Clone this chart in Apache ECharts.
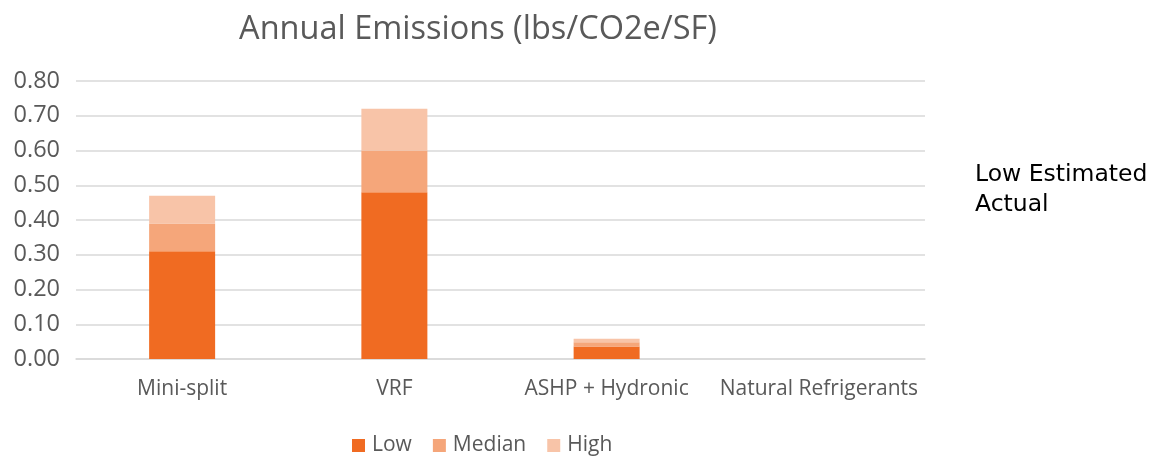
<!DOCTYPE html>
<html><head><meta charset="utf-8">
<script src="https://cdn.jsdelivr.net/npm/echarts@6/dist/echarts.min.js"></script>
<style>html,body{margin:0;padding:0;background:#fff}#c{width:1155px;height:460px}</style>
</head><body><div id="c"></div>
<script>
const categories = ['Mini-split', 'VRF', 'ASHP + Hydronic', 'Natural Refrigerants'];
const lowValues = [0.31, 0.48, 0.036, 0];
const medianValues = [0.08, 0.12, 0.012, 0];
const highValues = [0.08, 0.12, 0.010, 0];
const seriesNames = ['Low', 'Median', 'High'];
const titleText = 'Annual Emissions (lbs/CO2e/SF)';
const sideNote = 'Low Estimated\nActual';

const colors = ['#F06B22', '#F5A67A', '#F8C4A8'];
const font = '"Open Sans", "Liberation Sans", sans-serif';
const chart = echarts.init(document.getElementById('c'));
const data = [lowValues, medianValues, highValues];
chart.setOption({
  animation: false,
  title: { text: titleText, left: 473, textAlign: 'center', top: 8,
    textStyle: { fontFamily: font, fontSize: 32.5, fontWeight: 'normal', color: '#595959' } },
  graphic: [{ type: 'text', left: 975, top: 160,
    style: { text: sideNote, fontFamily: '"DejaVu Sans", sans-serif', fontSize: 23.5, fill: '#000', lineHeight: 30 } }],
  legend: { top: 430, left: 347, itemWidth: 13, itemHeight: 13, itemGap: 21,
    icon: 'rect', data: seriesNames,
    textStyle: { fontFamily: font, fontSize: 21, color: '#595959', padding: [0, 0, 0, 2] } },
  grid: { left: 76, right: 230, top: 81, bottom: 101, containLabel: false },
  xAxis: { type: 'category', data: categories,
    axisLine: { lineStyle: { color: '#d9d9d9', width: 1.5 } }, axisTick: { show: false },
    axisLabel: { interval: 0, fontFamily: font, fontSize: 21, color: '#595959', margin: 20 } },
  yAxis: { type: 'value', min: 0, max: 0.8, interval: 0.1,
    axisLine: { show: false }, axisTick: { show: false },
    splitLine: { lineStyle: { color: '#d9d9d9', width: 1.5 } },
    axisLabel: { fontFamily: font, fontSize: 23.5, color: '#595959', margin: 16,
      formatter: v => v.toFixed(2) } },
  series: seriesNames.map((n, i) => ({
    name: n, type: 'bar', stack: 'total', barWidth: 66, data: data[i],
    itemStyle: { color: colors[i] }
  }))
});
</script></body></html>
